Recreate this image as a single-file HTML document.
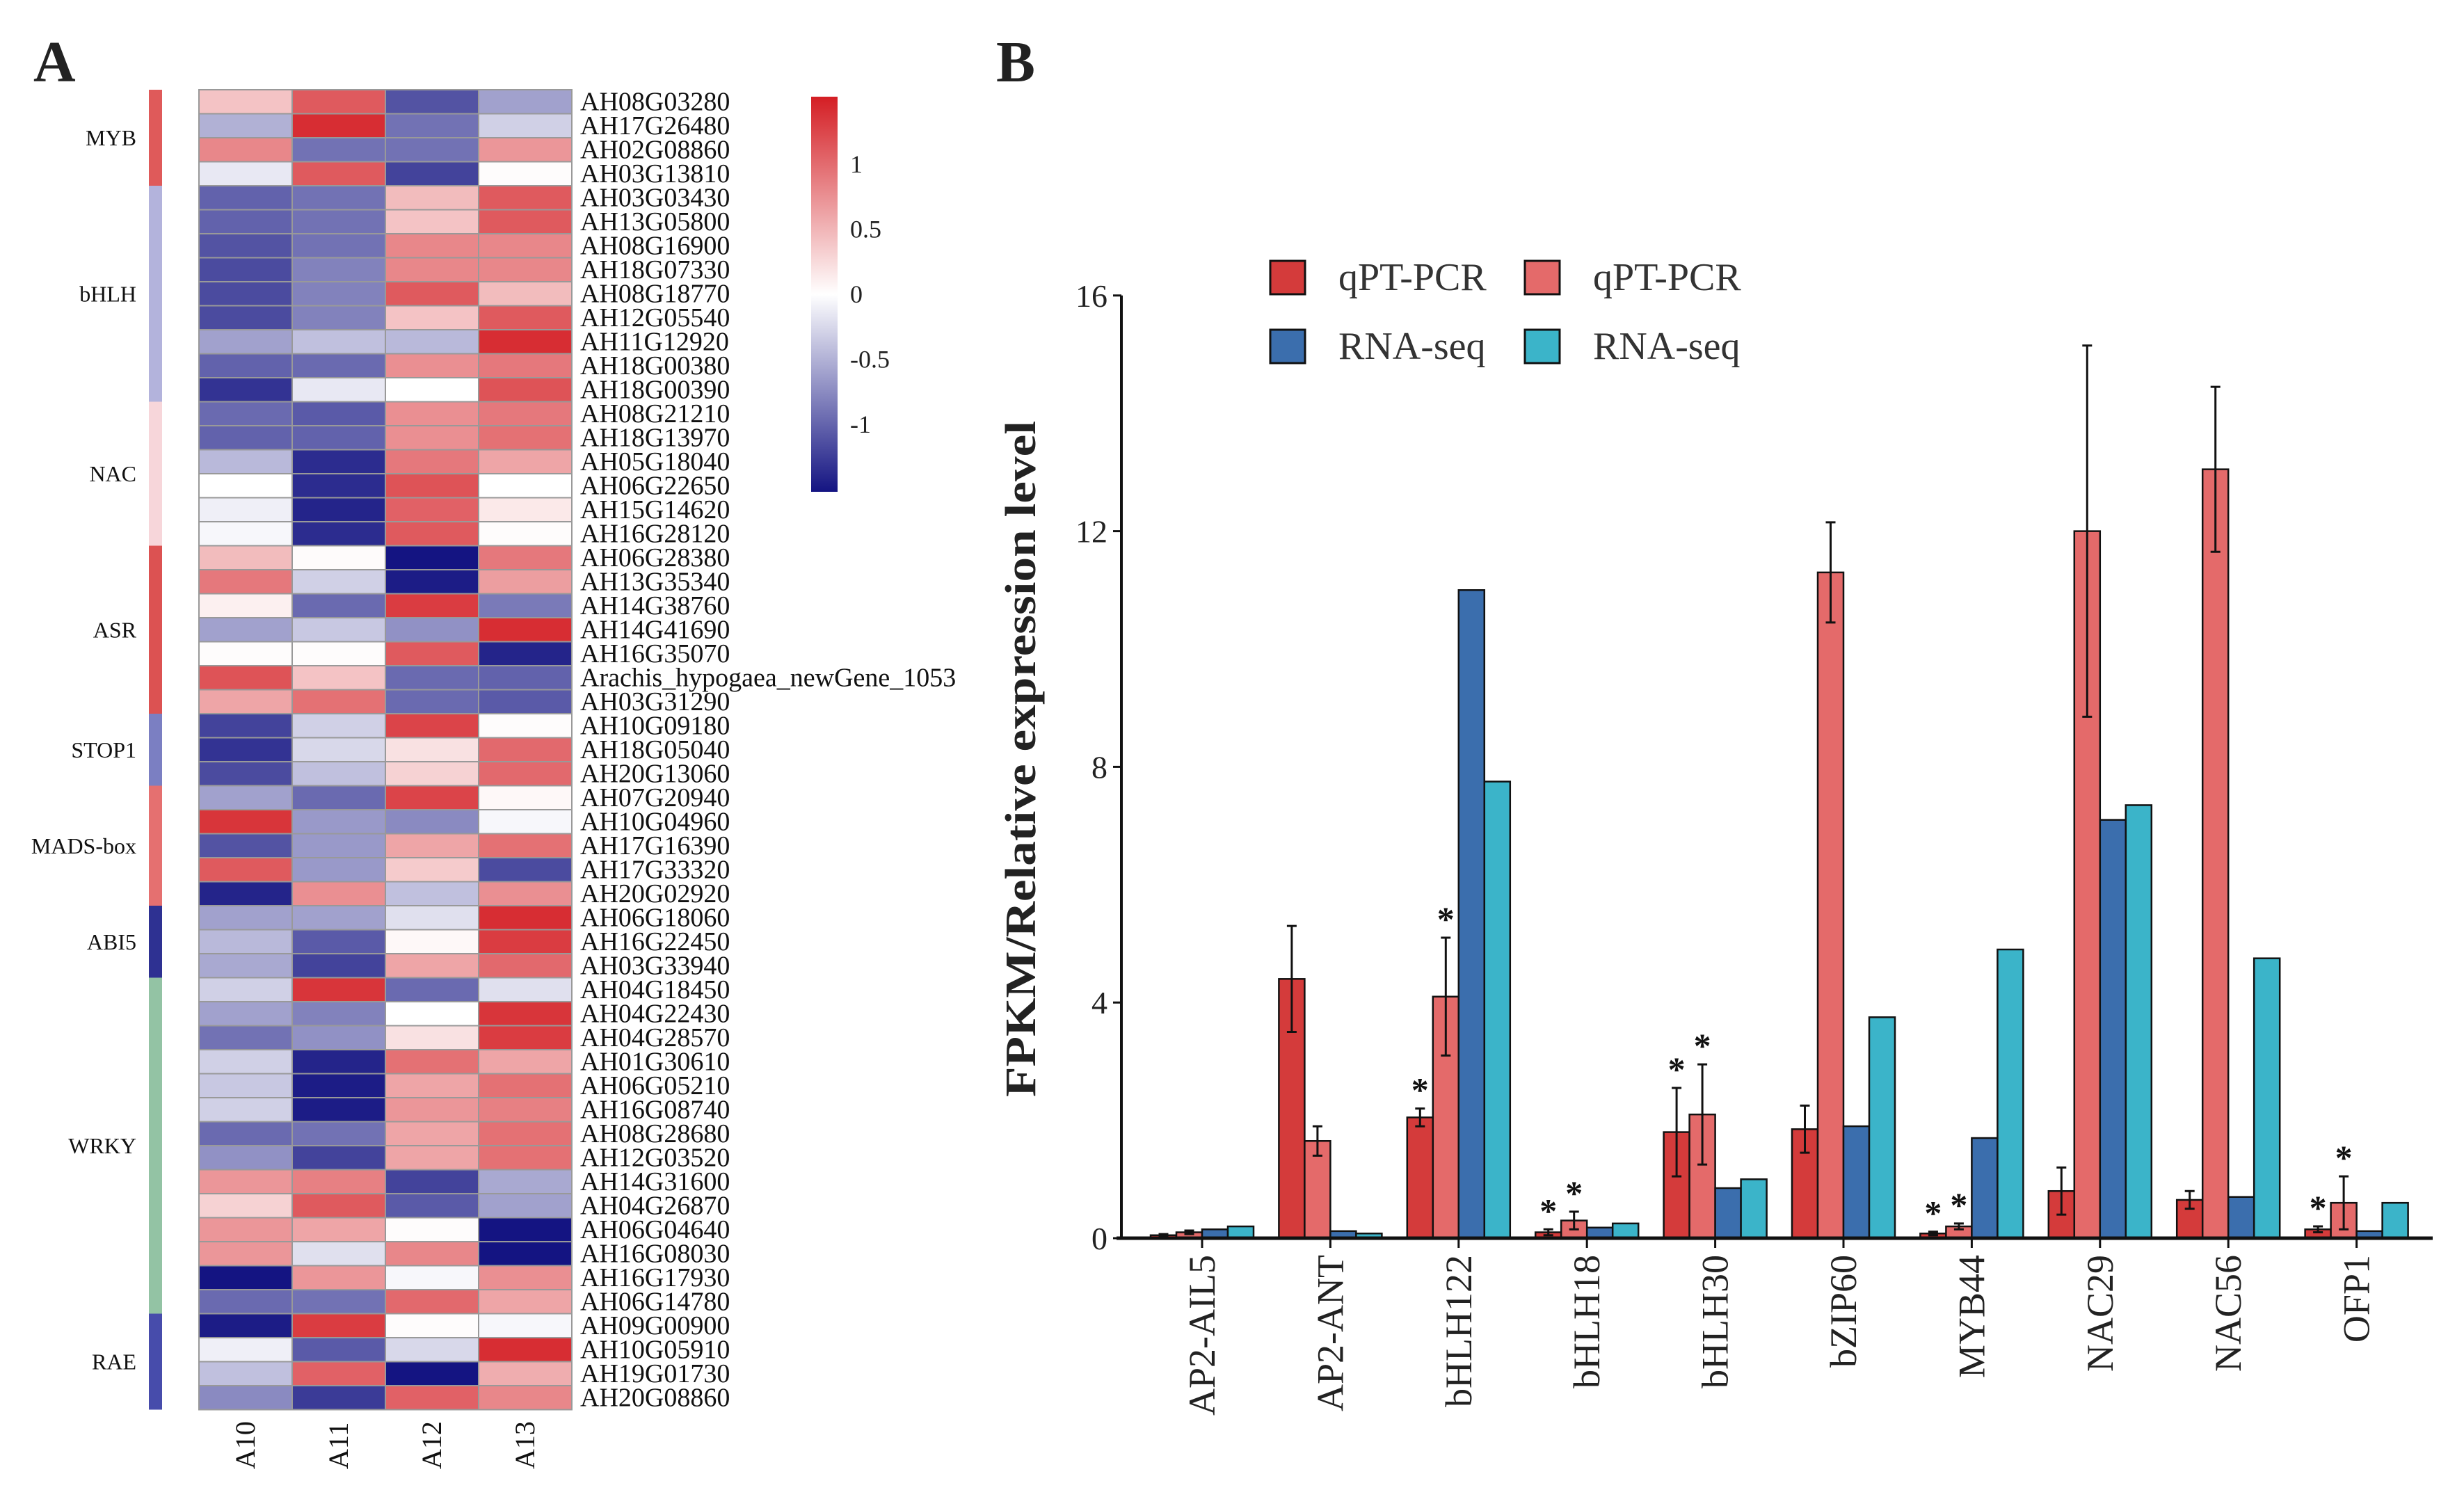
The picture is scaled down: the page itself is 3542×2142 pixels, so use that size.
<!DOCTYPE html>
<html><head><meta charset="utf-8">
<style>
html,body{margin:0;padding:0;background:#fff;}
svg{display:block;font-family:"Liberation Serif",serif;}
</style></head>
<body>
<svg id="fig" width="3542" height="2142" viewBox="0 0 3542 2142" xmlns="http://www.w3.org/2000/svg">
<rect width="3542" height="2142" fill="#fff"/>
<text x="48" y="117" font-size="84" font-weight="bold" fill="#222">A</text>
<text x="1432" y="117" font-size="84" font-weight="bold" fill="#222">B</text>
<g id="heat"></g>
<g id="bars"></g>
</svg>
<script>
// ---------- Heatmap data ----------
const genes = ["AH08G03280","AH17G26480","AH02G08860","AH03G13810","AH03G03430","AH13G05800","AH08G16900","AH18G07330","AH08G18770","AH12G05540","AH11G12920","AH18G00380","AH18G00390","AH08G21210","AH18G13970","AH05G18040","AH06G22650","AH15G14620","AH16G28120","AH06G28380","AH13G35340","AH14G38760","AH14G41690","AH16G35070","Arachis_hypogaea_newGene_1053","AH03G31290","AH10G09180","AH18G05040","AH20G13060","AH07G20940","AH10G04960","AH17G16390","AH17G33320","AH20G02920","AH06G18060","AH16G22450","AH03G33940","AH04G18450","AH04G22430","AH04G28570","AH01G30610","AH06G05210","AH16G08740","AH08G28680","AH12G03520","AH14G31600","AH04G26870","AH06G04640","AH16G08030","AH16G17930","AH06G14780","AH09G00900","AH10G05910","AH19G01730","AH20G08860"];
const samples = ["A10","A11","A12","A13"];
const heatValues = [
[0.4,1.1,-1.1,-0.6],[-0.5,1.4,-0.9,-0.3],[0.8,-0.9,-0.9,0.7],[-0.15,1.1,-1.2,0.02],
[-1.0,-0.9,0.45,1.1],[-1.0,-0.9,0.4,1.1],[-1.1,-0.9,0.8,0.8],[-1.15,-0.8,0.8,0.8],
[-1.15,-0.8,1.1,0.45],[-1.15,-0.8,0.4,1.1],[-0.6,-0.4,-0.45,1.4],[-1.0,-0.95,0.75,0.9],
[-1.3,-0.15,0,1.15],[-0.95,-1.05,0.75,0.9],[-1.0,-1.0,0.75,0.95],[-0.45,-1.35,0.9,0.6],
[0,-1.35,1.15,0],[-0.1,-1.4,1.05,0.15],[-0.05,-1.35,1.1,0.02],[0.45,0.03,-1.5,0.9],
[0.9,-0.3,-1.45,0.65],[0.1,-0.95,1.3,-0.85],[-0.6,-0.35,-0.7,1.4],[0.02,0.02,1.1,-1.4],
[1.15,0.4,-0.95,-1.0],[0.6,0.95,-0.95,-1.05],[-1.2,-0.3,1.25,0.02],[-1.3,-0.25,0.2,1.0],
[-1.15,-0.4,0.3,1.0],[-0.6,-0.95,1.25,0.05],[1.35,-0.65,-0.75,-0.05],[-1.1,-0.65,0.6,0.95],
[1.1,-0.65,0.35,-1.15],[-1.4,0.75,-0.4,0.75],[-0.6,-0.6,-0.2,1.4],[-0.45,-1.05,0.05,1.3],
[-0.55,-1.2,0.6,1.0],[-0.3,1.35,-0.95,-0.2],[-0.6,-0.8,0,1.35],[-0.9,-0.7,0.2,1.3],
[-0.3,-1.4,0.95,0.6],[-0.35,-1.45,0.6,0.95],[-0.3,-1.45,0.7,0.85],[-0.95,-0.9,0.6,0.95],
[-0.7,-1.2,0.6,0.95],[0.7,0.85,-1.2,-0.55],[0.3,1.1,-1.05,-0.6],[0.7,0.6,0.02,-1.5],
[0.7,-0.2,0.8,-1.5],[-1.5,0.7,-0.05,0.75],[-0.95,-0.9,1.0,0.6],[-1.45,1.3,0.02,-0.05],
[-0.1,-1.05,-0.25,1.4],[-0.4,1.05,-1.5,0.55],[-0.75,-1.25,1.05,0.8]];
const groupNames = ["MYB","bHLH","NAC","ASR","STOP1","MADS-box","ABI5","WRKY","RAE"];
const groupSizes = [4,9,6,7,3,5,3,14,4];
const groupColors = ["#df5a5a","#b3b3dc","#f7d6da","#dc5252","#7b7fc2","#e57070","#2e3192","#93c3a4","#474cab"];
const legendTicks = [1,0.5,0,-0.5,-1];

// ---------- Bar chart data ----------
const categories = ["AP2-AIL5","AP2-ANT","bHLH122","bHLH18","bHLH30","bZIP60","MYB44","NAC29","NAC56","OFP1"];
const qpcr1 = [0.05,4.4,2.05,0.1,1.8,1.85,0.08,0.8,0.65,0.15];
const qpcr1Err = [0.02,0.9,0.15,0.05,0.75,0.4,0.03,0.4,0.15,0.05];
const qpcr2 = [0.1,1.65,4.1,0.3,2.1,11.3,0.2,12.0,13.05,0.6];
const qpcr2Err = [0.03,0.25,1.0,0.15,0.85,0.85,0.05,3.15,1.4,0.45];
const rna1 = [0.15,0.12,11.0,0.18,0.85,1.9,1.7,7.1,0.7,0.12];
const rna2 = [0.2,0.08,7.75,0.25,1.0,3.75,4.9,7.35,4.75,0.6];
const star1 = [0,0,1,1,1,0,1,0,0,1];
const star2 = [0,0,1,1,1,0,1,0,0,1];
const yTicks = [0,4,8,12,16];
const seriesNames = ["qPT-PCR","qPT-PCR","RNA-seq","RNA-seq"];

const NS = "http://www.w3.org/2000/svg";
function mk(tag, attrs, parent, txt){
  const e = document.createElementNS(NS, tag);
  for (const k in attrs) e.setAttribute(k, attrs[k]);
  if (txt !== undefined) e.textContent = txt;
  parent.appendChild(e);
  return e;
}

// ---------- Heatmap ----------
const heat = document.getElementById('heat');
const hx0 = 286, hy0 = 129, cw = 134, rh = 34.5;
const navy=[20,20,130], white=[255,255,255], red=[212,30,36];
function colorOf(v){
  let t = Math.max(-1, Math.min(1, v/1.5));
  let a = t<0?navy:red, s = Math.abs(t);
  const c = a.map((x,i)=>Math.round(white[i]+(x-white[i])*s));
  return `rgb(${c[0]},${c[1]},${c[2]})`;
}
heatValues.forEach((row, r) => {
  row.forEach((v, c) => {
    const cell = mk('rect', {x: hx0 + c*cw, y: hy0 + r*rh, width: cw, height: rh, fill: colorOf(v), stroke: '#999', 'stroke-width': 2}, heat);
    
    
  });
  const lab = mk('text', {x: 834, y: hy0 + r*rh + rh - 5, 'font-size': 38, fill: '#111'}, heat, genes[r]);
  
  
});
samples.forEach((s, c) => {
  const cx = hx0 + c*cw + cw/2;
  const t = mk('text', {x: 0, y: 0, 'font-size': 40, fill: '#111', 'text-anchor': 'start', transform: `translate(${cx+13},2112) rotate(-90)`}, heat, s);
  
  
});
let start = 0;
groupNames.forEach((g, i) => {
  const y = hy0 + start*rh, h = groupSizes[i]*rh;
  const b = mk('rect', {x: 214, y: y, width: 19, height: h, fill: groupColors[i]}, heat);
  
  
  const t = mk('text', {x: 196, y: y + h/2 + 11, 'font-size': 32, 'text-anchor': 'end', fill: '#111'}, heat, g);
  
  
  start += groupSizes[i];
});
// colour legend
const defs = mk('defs', {}, heat);
const grad = mk('linearGradient', {id: 'cg', x1: 0, y1: 0, x2: 0, y2: 1}, defs);
mk('stop', {offset: '0', 'stop-color': 'rgb(212,30,36)'}, grad);
mk('stop', {offset: '0.5', 'stop-color': '#fff'}, grad);
mk('stop', {offset: '1', 'stop-color': 'rgb(20,20,130)'}, grad);
const lb = mk('rect', {x: 1166, y: 139, width: 38, height: 568, fill: 'url(#cg)'}, heat);


const ly = v => 423 - v*187;
legendTicks.forEach(v => {
  const t = mk('text', {x: 1222, y: ly(v) + 12, 'font-size': 36, fill: '#222'}, heat, String(v));
  
  
});

// ---------- Bar chart ----------
const bars = document.getElementById('bars');
const y0 = 1780, perUnit = 84.7, xc0 = 1728, step = 184.4, bw = 37;
const yS = v => y0 - v*perUnit;
const xS = i => xc0 + i*step;
const colors = ["#d43b3b","#e46a6a","#3b6ead","#3bb4c9"];
const series = [qpcr1, qpcr2, rna1, rna2];
const errs = [qpcr1Err, qpcr2Err, null, null];
const stars = [star1, star2, null, null];

const yax = mk('line', {x1: 1612, y1: yS(16), x2: 1612, y2: y0, stroke: '#111', 'stroke-width': 4}, bars);


yTicks.forEach(v => {
  const tk = mk('line', {x1: 1600, y1: yS(v), x2: 1612, y2: yS(v), stroke: '#111', 'stroke-width': 3}, bars);
  
  
  const t = mk('text', {x: 1592, y: yS(v) + 16, 'font-size': 46, 'text-anchor': 'end', fill: '#222'}, bars, String(v));
  
  
});
const yl = mk('text', {x: 0, y: 0, 'font-size': 62, 'font-weight': 'bold', 'text-anchor': 'middle', fill: '#222', textLength: 972, lengthAdjust: 'spacingAndGlyphs', transform: 'translate(1488,1091) rotate(-90)'}, bars, 'FPKM/Relative expression level');



categories.forEach((cat, i) => {
  const cx = xS(i);
  series.forEach((s, k) => {
    const x = cx - 2*bw + k*bw;
    const r = mk('rect', {x: x, y: yS(s[i]), width: bw, height: y0 - yS(s[i]), fill: colors[k], stroke: '#111', 'stroke-width': 2.5}, bars);
    
    
    if (errs[k]) {
      const ex = x + bw/2, top = yS(s[i] + errs[k][i]), bot = yS(Math.max(0, s[i] - errs[k][i]));
      const el = mk('path', {d: `M${ex},${top} V${bot} M${ex-7},${top} H${ex+7} M${ex-7},${bot} H${ex+7}`, stroke: '#111', 'stroke-width': 3, fill: 'none'}, bars);
      
      
      if (stars[k][i]) {
        const st = mk('text', {x: ex, y: top - 10, 'font-size': 50, 'font-weight': 'bold', 'text-anchor': 'middle', fill: '#111'}, bars, '*');
        
        
      }
    }
  });
  const tk = mk('line', {x1: cx, y1: y0, x2: cx, y2: y0 + 14, stroke: '#111', 'stroke-width': 3}, bars);
  
  
  const t = mk('text', {x: 0, y: 0, 'font-size': 54, 'text-anchor': 'end', fill: '#222', transform: `translate(${cx + 18},1804) rotate(-90)`}, bars, cat);
  
  
});
const xax = mk('line', {x1: 1605, y1: y0, x2: 3497, y2: y0, stroke: '#111', 'stroke-width': 5}, bars);



// legend
const legPos = [[1826,375],[2192,375],[1826,474],[2192,474]];
seriesNames.forEach((n, k) => {
  const [lx, lyy] = legPos[k];
  const sw = mk('rect', {x: lx, y: lyy, width: 50, height: 48, fill: colors[k], stroke: '#111', 'stroke-width': 3}, bars);
  
  
  const t = mk('text', {x: lx + 98, y: lyy + 42, 'font-size': 56, fill: '#333'}, bars, n);
  
  
});
</script>
</body></html>
